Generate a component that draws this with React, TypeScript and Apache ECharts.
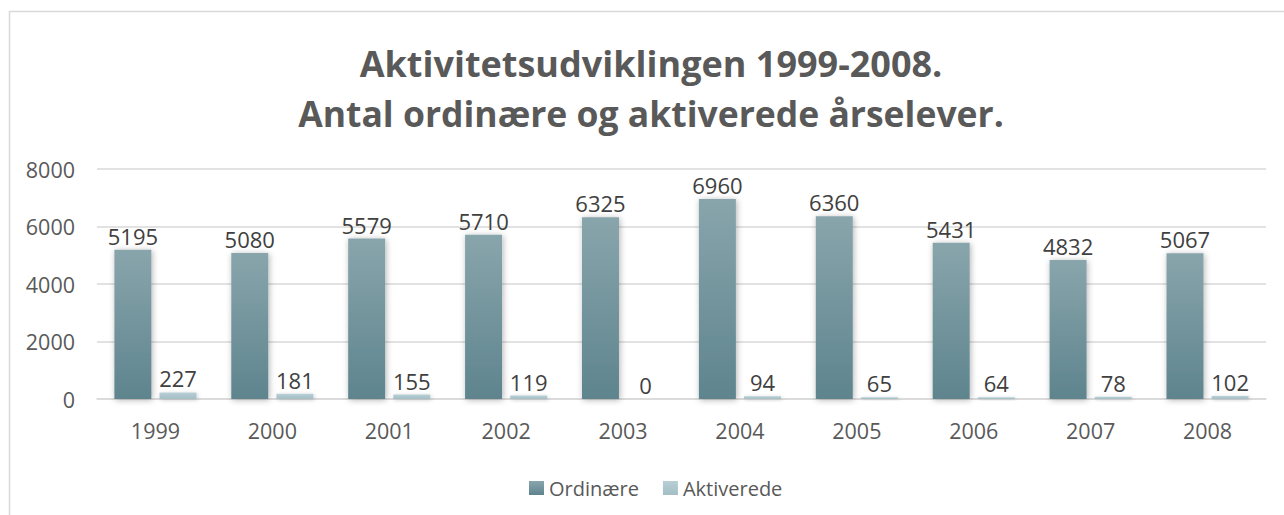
import React, { useEffect, useRef } from "react";
import * as echarts from "echarts";

const years = ["1999", "2000", "2001", "2002", "2003", "2004", "2005", "2006", "2007", "2008"];
const ordinaere = [5195, 5080, 5579, 5710, 6325, 6960, 6360, 5431, 4832, 5067];
const aktiverede = [227, 181, 155, 119, 0, 94, 65, 64, 78, 102];
const yTicks = { min: 0, max: 8000, interval: 2000 };
const titleLines = ["Aktivitetsudviklingen 1999-2008.", "Antal ordinære og aktiverede årselever."];
const seriesNames = ["Ordinære", "Aktiverede"];

const FONT = "'Open Sans', 'Noto Sans', sans-serif";

export default function App() {
  const ref = useRef<HTMLDivElement>(null);
  useEffect(() => {
    if (!ref.current) return;
    const chart = echarts.init(ref.current, null, { renderer: "svg" });
    const labelStyle = {
      show: true,
      position: "top" as const,
      distance: 3,
      color: "#404040",
      fontSize: 22,
      fontFamily: FONT,
    };
    chart.setOption({
      animation: false,
      backgroundColor: "#ffffff",
      textStyle: { fontFamily: FONT },
      graphic: [
        {
          type: "rect",
          shape: { x: 9.5, y: 11.5, width: 1300, height: 540 },
          style: { fill: "none", stroke: "#d9d9d9", lineWidth: 1.5 },
          silent: true,
          z: -1,
        },
        {
          type: "text",
          x: 651,
          y: 63,
          style: {
            text: titleLines[0],
            fill: "#595959",
            font: `bold 36px ${FONT}`,
            textAlign: "center",
            textVerticalAlign: "middle",
          },
        },
        {
          type: "text",
          x: 651,
          y: 113,
          style: {
            text: titleLines[1],
            fill: "#595959",
            font: `bold 35.5px ${FONT}`,
            textAlign: "center",
            textVerticalAlign: "middle",
          },
        },
      ],
      legend: {
        data: seriesNames,
        left: 524,
        top: 473,
        itemWidth: 15,
        itemHeight: 14,
        itemGap: 24,
        icon: "rect",
        textStyle: { color: "#595959", fontSize: 20, fontFamily: FONT },
      },
      grid: { left: 97, right: 18, top: 169, bottom: 116, containLabel: false },
      xAxis: {
        type: "category",
        data: years,
        axisLine: { show: true, lineStyle: { color: "#d9d9d9", width: 1.5 } },
        axisTick: { show: false },
        axisLabel: { color: "#595959", fontSize: 21.5, fontFamily: FONT, margin: 20 },
      },
      yAxis: {
        type: "value",
        min: yTicks.min,
        max: yTicks.max,
        interval: yTicks.interval,
        axisLine: { show: false },
        axisTick: { show: false },
        splitLine: { lineStyle: { color: "#d9d9d9", width: 1.5 } },
        axisLabel: {
          color: "#595959",
          fontSize: 21.5,
          fontFamily: FONT,
          margin: 22,
          formatter: (v: number) => String(v),
        },
      },
      series: [
        {
          name: seriesNames[0],
          type: "bar",
          data: ordinaere,
          barWidth: 37,
          barGap: "22%",
          label: labelStyle,
          itemStyle: {
            color: new echarts.graphic.LinearGradient(0, 0, 0, 1, [
              { offset: 0, color: "#89a5ac" },
              { offset: 1, color: "#5e848e" },
            ]),
            shadowBlur: 6,
            shadowColor: "rgba(0,0,0,0.3)",
            shadowOffsetX: 1,
            shadowOffsetY: 1,
          },
        },
        {
          name: seriesNames[1],
          type: "bar",
          data: aktiverede,
          barWidth: 37,
          label: labelStyle,
          itemStyle: {
            color: new echarts.graphic.LinearGradient(0, 0, 0, 1, [
              { offset: 0, color: "#b8cfd5" },
              { offset: 1, color: "#a3bec5" },
            ]),
            shadowBlur: 4,
            shadowColor: "rgba(0,0,0,0.2)",
            shadowOffsetX: 1,
            shadowOffsetY: 1,
          },
        },
      ],
    });
    return () => chart.dispose();
  }, []);
  return (
    <div
      ref={ref}
      style={{ position: "fixed", left: 0, top: 0, width: 1284, height: 515 }}
    />
  );
}
